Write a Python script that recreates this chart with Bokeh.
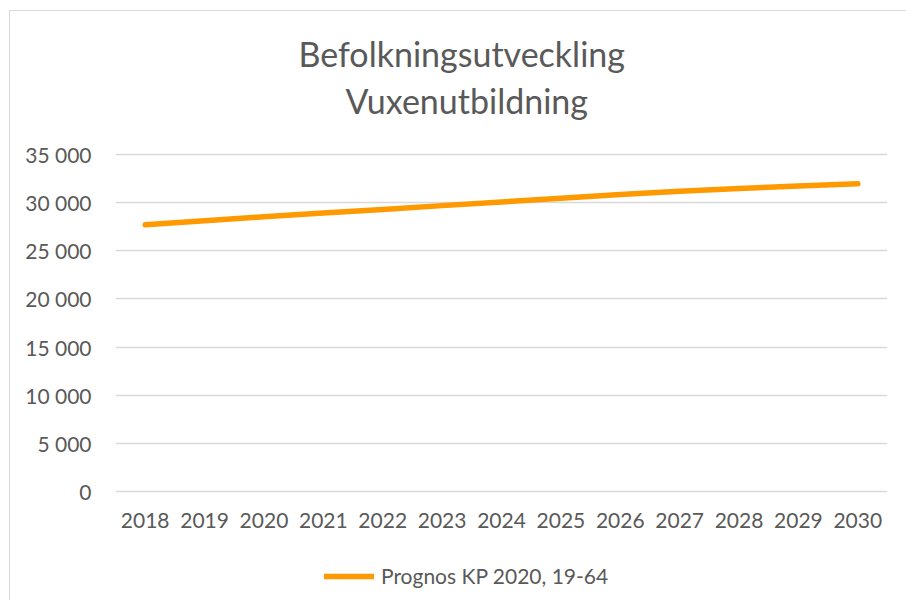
from bokeh.plotting import figure
from bokeh.models import (FactorRange, Range1d, FixedTicker, CustomJSTickFormatter,
                          Title, Legend, LegendItem, GlobalInlineStyleSheet)
from bokeh.embed import file_html
from bokeh.resources import INLINE

# ---- data ----
years = ["2018", "2019", "2020", "2021", "2022", "2023", "2024",
         "2025", "2026", "2027", "2028", "2029", "2030"]
prognos = [27700, 28110, 28530, 28920, 29300, 29690, 30070,
           30460, 30850, 31180, 31480, 31730, 31960]
y_ticks = [0, 5000, 10000, 15000, 20000, 25000, 30000, 35000]
title_lines = ["Befolkningsutveckling", "Vuxenutbildning"]
series_name = "Prognos KP 2020, 19-64"

FONT = "Lato"
GREY = "#595959"

# layout: the 0..35000 gridline band spans 337px; the frame extends 33px above
# it (room for the title) and 109px below it (room for x labels and legend)
BAND_H, ABOVE_PX, BELOW_PX = 337, 33, 109
FRAME_H = BAND_H + ABOVE_PX + BELOW_PX
Y_TOP = 35000 * (BAND_H + ABOVE_PX) / BAND_H
Y_BOTTOM = -35000 * BELOW_PX / BAND_H

p = figure(frame_width=772, frame_height=FRAME_H, output_backend="svg",
           toolbar_location=None,
           x_range=FactorRange(*years), y_range=Range1d(Y_BOTTOM, Y_TOP),
           min_border_left=105, min_border_right=30,
           min_border_top=110, min_border_bottom=0)
p.styles = {"border-left": "1px solid #d9d9d9", "border-top": "1px solid #d9d9d9",
            "margin-left": "9px", "margin-top": "10px"}
p.stylesheets = [GlobalInlineStyleSheet(
    css="html, body { margin: 0 !important; padding: 0 !important; overflow: hidden !important; }")]
p.outline_line_color = None
p.background_fill_color = "white"
p.border_fill_color = "white"

r = p.line(x=years, y=prognos, line_color="#ff9900", line_width=5.5,
           line_cap="round", line_join="round")

# axes
p.yaxis.ticker = FixedTicker(ticks=y_ticks)
p.yaxis.formatter = CustomJSTickFormatter(
    code="return tick.toFixed(0).replace(/\\B(?=(\\d{3})+(?!\\d))/g, ' ');")
for ax in (p.xaxis[0], p.yaxis[0]):
    ax.axis_line_color = None
    ax.major_tick_line_color = None
    ax.minor_tick_line_color = None
    ax.major_label_text_font = FONT
    ax.major_label_text_font_size = "21px"
    ax.major_label_text_color = GREY
p.xaxis.fixed_location = 0
p.yaxis.major_label_standoff = 18
p.xaxis.major_label_standoff = 15

p.xgrid.grid_line_color = None
p.ygrid.grid_line_color = "#d9d9d9"
p.ygrid.grid_line_width = 1.5

# title (two stacked lines; first added sits nearest the plot)
p.add_layout(Title(text=title_lines[1], align="left", offset=230, standoff=2,
                   text_font=FONT, text_font_size="34px", text_color=GREY,
                   text_font_style="normal"), "above")
p.add_layout(Title(text=title_lines[0], align="left", offset=183, standoff=6,
                   text_font=FONT, text_font_size="34px", text_color=GREY,
                   text_font_style="normal"), "above")

legend = Legend(items=[LegendItem(label=series_name, renderers=[r])],
                location=(209, 12), orientation="horizontal",
                padding=0, margin=0, spacing=0, glyph_width=50, glyph_height=24,
                label_standoff=7, label_height=24,
                border_line_color=None, background_fill_alpha=0,
                label_text_font=FONT, label_text_font_size="21px",
                label_text_color=GREY)
p.add_layout(legend)

open("out.html", "w").write(file_html(p, INLINE))
